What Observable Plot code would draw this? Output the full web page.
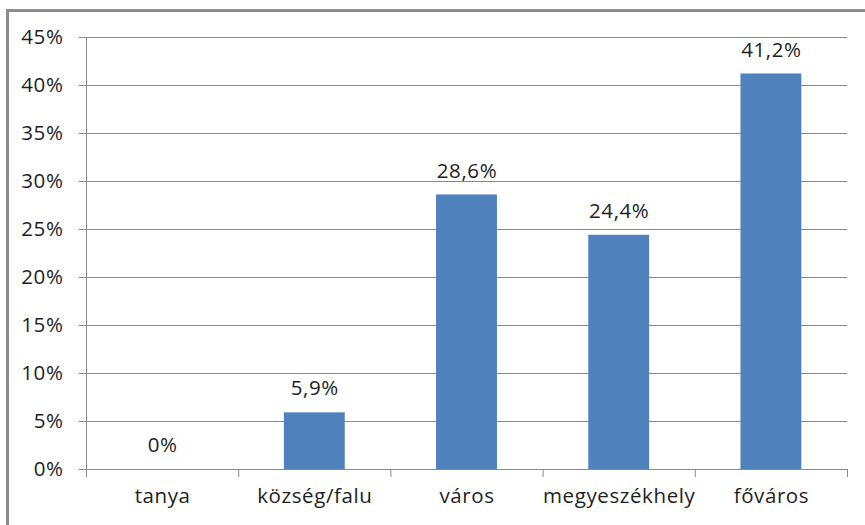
<!DOCTYPE html>
<html>
<head>
<meta charset="utf-8">
<script src="https://cdn.jsdelivr.net/npm/d3@7"></script>
<script src="https://cdn.jsdelivr.net/npm/@observablehq/plot@0.6"></script>
<style>
  html, body { margin: 0; padding: 0; background: #fff; }
  #wrap { position: relative; width: 865px; height: 525px; overflow: hidden; }
  #frame { position: absolute; left: 6px; top: 9px; width: 900px; height: 600px;
           border-left: 3px solid #8c8c8c; border-top: 3px solid #8c8c8c; box-sizing: border-box; }
  #chart { position: absolute; left: 0; top: 0; }
  #chart svg text { letter-spacing: 0.6px; }
</style>
</head>
<body>
<div id="wrap"><div id="frame"></div><div id="chart"></div></div>
<script>
const categories = ["tanya", "község/falu", "város", "megyeszékhely", "főváros"];
const values = [0, 5.9, 28.6, 24.4, 41.2];
const yTicks = [0, 5, 10, 15, 20, 25, 30, 35, 40, 45];

const data = categories.map((c, i) => ({i, c, v: values[i]}));
const fmt = v => (v === 0 ? "0" : v.toFixed(1).replace(".", ",")) + "%";
const boundaries = d3.range(categories.length + 1).map(k => k - 0.5);
const barHalf = 0.2;

const chart = Plot.plot({
  width: 865,
  height: 525,
  marginLeft: 86,
  marginRight: 18,
  marginTop: 37,
  marginBottom: 56,
  style: {fontFamily: "'Open Sans', sans-serif", fontSize: "20.5px", color: "#1e1e1e", background: "transparent"},
  x: {type: "linear", domain: [-0.5, categories.length - 0.5]},
  y: {domain: [0, 45]},
  marks: [
    Plot.gridY(yTicks, {stroke: "#8a8a8a", strokeOpacity: 1}),
    Plot.ruleX([-0.5], {stroke: "#8a8a8a"}),
    Plot.ruleY([0], {stroke: "#8a8a8a"}),
    Plot.axisY({ticks: yTicks, tickSize: 7, tickPadding: 16, tickFormat: d => d + "%", stroke: "#8a8a8a", label: null}),
    Plot.axisX({ticks: boundaries, tickSize: 8, text: null, stroke: "#8a8a8a", label: null}),
    Plot.axisX({ticks: d3.range(categories.length), tickSize: 0, tickPadding: 19, tickFormat: i => categories[i], label: null}),
    Plot.rectY(data, {x1: d => d.i - barHalf, x2: d => d.i + barHalf, y1: 0, y2: "v", fill: "#4f81bd"}),
    Plot.text(data, {x: "i", y: "v", text: d => fmt(d.v), dy: -24, fill: "#1e1e1e"})
  ]
});
document.getElementById("chart").appendChild(chart);
</script>
</body>
</html>
